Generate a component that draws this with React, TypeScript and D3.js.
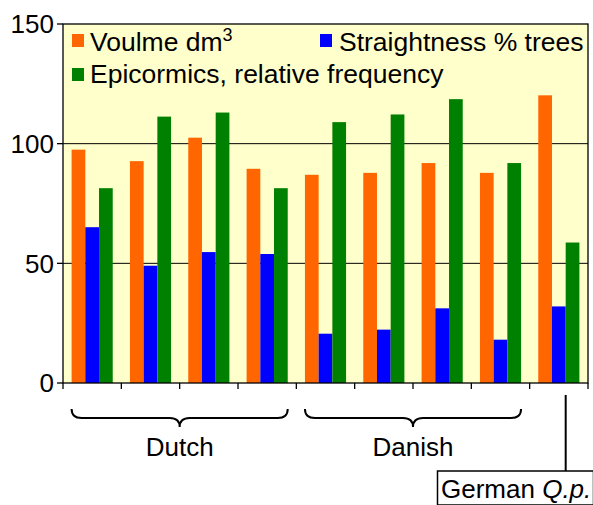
import React from "react";
import * as d3 from "d3";

const categories = ["D1", "D2", "D3", "D4", "K1", "K2", "K3", "K4", "G"];
const volume = [97.5, 92.7, 102.5, 89.5, 87, 87.8, 91.9, 87.8, 120.2];
const straightness = [65.1, 49, 54.7, 53.9, 20.6, 22.3, 31.2, 18.1, 32];
const epicormics = [81.4, 111.3, 113, 81.4, 109, 112.2, 118.6, 91.9, 58.7];
const seriesNames = ["Voulme dm", "Straightness % trees", "Epicormics, relative frequency"];
const seriesColors = ["#FF6600", "#0000FF", "#008000"];
const yTicks = [0, 50, 100, 150];
const groupLabels = ["Dutch", "Danish"];

const W = 593;
const H = 505;
const L = 63, R = 588, T = 24, B = 383;
const FONT = "'Liberation Sans', Arial, sans-serif";

export default function App() {
  const x = d3.scaleBand<number>().domain(d3.range(categories.length)).range([L, R]).paddingInner(0.295).paddingOuter(0.1475);
  const inner = d3.scaleBand<number>().domain([0, 1, 2]).range([0, x.bandwidth()]).padding(0);
  const y = d3.scaleLinear().domain([0, 150]).range([B, T]);
  const series = [volume, straightness, epicormics];
  const step = x.step();

  const brace = (x0: number, x1: number) => {
    const y0 = 409, y1 = 418, y2 = 427, r = 10;
    const cx = (x0 + x1) / 2;
    return `M${x0},${y0} Q${x0},${y1} ${x0 + r},${y1} L${cx - r},${y1} Q${cx},${y1} ${cx},${y2} Q${cx},${y1} ${cx + r},${y1} L${x1 - r},${y1} Q${x1},${y1} ${x1},${y0}`;
  };
  const groups = [
    [0, 3],
    [4, 7],
  ];
  const gx = (i: number) => x(i)! + inner(2)!;

  return (
    <div style={{ position: "fixed", left: 0, top: 0 }}>
      <svg width={W} height={H} style={{ display: "block", fontFamily: FONT }}>
        <rect x={0} y={0} width={W} height={H} fill="#ffffff" />
        <rect x={L} y={T} width={R - L} height={B - T} fill="#FFFFCC" />
        {yTicks.filter((t) => t > 0 && t < 150).map((t) => (
          <line key={t} x1={L} x2={R} y1={y(t)} y2={y(t)} stroke="#000" strokeWidth={1} />
        ))}
        {series.map((vals, s) =>
          vals.map((v, i) => (
            <rect
              key={`${s}-${i}`}
              x={x(i)! + inner(s)!}
              y={y(v)}
              width={inner.bandwidth()}
              height={B - y(v)}
              fill={seriesColors[s]}
            />
          ))
        )}
        <rect x={L} y={T} width={R - L} height={B - T} fill="none" stroke="#000" strokeWidth={1.3} />
        {yTicks.map((t) => (
          <g key={t}>
            <line x1={L - 6} x2={L} y1={y(t)} y2={y(t)} stroke="#000" strokeWidth={1.3} />
            <text x={54} y={y(t)} dy="0.36em" textAnchor="end" fontSize={26} fill="#000">
              {t}
            </text>
          </g>
        ))}
        {d3.range(categories.length + 1).map((k) => (
          <line key={k} x1={L + k * step} x2={L + k * step} y1={B} y2={B + 6} stroke="#000" strokeWidth={1.3} />
        ))}
        {/* legend */}
        <rect x={72} y={34} width={12} height={13} fill={seriesColors[0]} />
        <text x={90} y={51} fontSize={26.5} fill="#000">
          {seriesNames[0]}
          <tspan fontSize={18} dy={-10}>3</tspan>
        </text>
        <rect x={320} y={34} width={12} height={13} fill={seriesColors[1]} />
        <text x={339} y={51} fontSize={26.5} fill="#000">{seriesNames[1]}</text>
        <rect x={72} y={68} width={12} height={13} fill={seriesColors[2]} />
        <text x={90} y={83} fontSize={26.5} fill="#000">{seriesNames[2]}</text>
        {/* braces */}
        {groups.map(([a, b], gi) => {
          const x0 = x(a)!;
          const x1 = x(b)! + x.bandwidth();
          return (
            <g key={gi}>
              <path d={brace(x0, x1)} fill="none" stroke="#000" strokeWidth={2} />
              <text x={(x0 + x1) / 2} y={456} textAnchor="middle" fontSize={26} fill="#000">
                {groupLabels[gi]}
              </text>
            </g>
          );
        })}
        <line x1={gx(8)} x2={gx(8)} y1={395} y2={471} stroke="#000" strokeWidth={2} />
        <rect x={437.5} y={471} width={156} height={34} fill="#fff" stroke="#000" strokeWidth={1.5} />
        <text x={441} y={498} fontSize={26} fill="#000">
          German <tspan fontStyle="italic">Q.p.</tspan>
        </text>
      </svg>
    </div>
  );
}
